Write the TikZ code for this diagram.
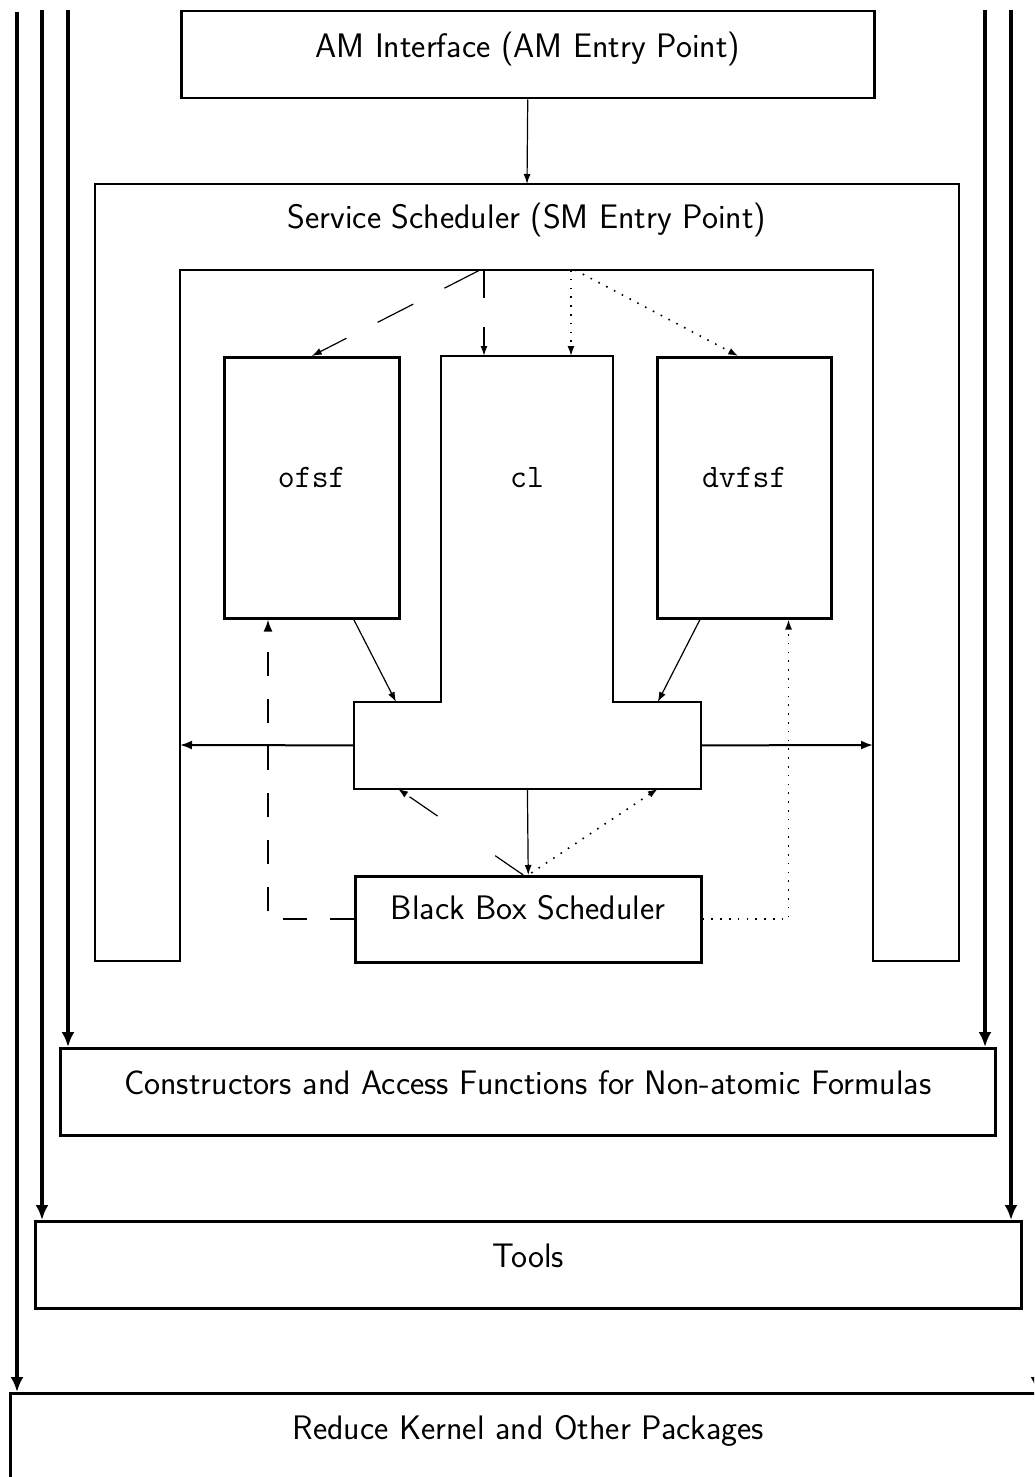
\documentclass[tikz,border=0pt]{standalone}
\usetikzlibrary{arrows.meta,calc}

\begin{document}
\begin{tikzpicture}[x=0.5pt,y=-0.5pt,
    font=\fontsize{17}{20}\selectfont\sffamily,
    frame/.style={line width=1.25pt},
    box/.style={draw,frame,inner sep=0pt,anchor=north west,
        minimum height=43.5pt,text height=23pt,text depth=20.5pt},
    modbox/.style={draw,frame,inner sep=0pt,anchor=north west,
        minimum height=130.5pt,text height=65.25pt,text depth=65.25pt,
        font=\fontsize{16.4}{19}\selectfont\ttfamily},
    pillar/.style={line width=1.8pt,-{Latex[length=7.5pt,width=6.5pt]}},
    thinarrow/.style={line width=0.6pt,-{Latex[length=5pt,width=3.5pt]}},
    midarrow/.style={line width=1pt,-{Latex[length=6pt,width=4.5pt]}},
    dots/.style={line width=0.8pt,dash pattern=on 0.8pt off 3.6pt},
]
    \clip (0,0) rectangle (1034,1477);

    % layers
    \node[box,minimum width=346.5pt] (am) at (180,10) {AM Interface (AM Entry Point)};
    \node[box,minimum width=467.5pt] (cons) at (59,1047) {Constructors and Access Functions for Non-atomic Formulas};
    \node[box,minimum width=493pt] (tools) at (34,1220) {Tools};
    \node[box,minimum width=518pt,minimum height=100pt,text depth=77pt] (reduce) at (9,1392) {Reduce Kernel and Other Packages};

    % service scheduler
    \coordinate (sstop) at (527,184);
    \coordinate (inl) at (180,745);
    \coordinate (inr) at (873,745);
    \coordinate (bar1) at (480,270);
    \coordinate (bar2) at (484,270);
    \coordinate (bar3) at (571,270);
    \coordinate (bar4) at (575,270);
    \draw[frame] (95,961) -- (95,184) -- (959,184) -- (959,961) -- (873,961)
        -- (873,270) -- (180,270) -- (180,961) -- cycle;
    \node[anchor=base] (ss) at (527,228) {Service Scheduler (SM Entry Point)};

    % domains
    \node[modbox,minimum width=87.5pt] (ofsf) at (223,356) {ofsf};
    \node[modbox,minimum width=87pt] (dvfsf) at (656,356) {dvfsf};
    \node[inner sep=0pt,anchor=north west,minimum width=173pt,minimum height=43pt] (clbar) at (354,702) {};
    \draw[frame] (clbar.north west) -- (441,702) -- (441,356) -- (613,356) -- (613,702)
        -- (clbar.north east) -- (clbar.south east) -- (clbar.south west) -- cycle;
    \node[anchor=base,font=\fontsize{16.4}{19}\selectfont\ttfamily] (cl) at (527,487) {cl};

    \node[box,minimum width=173pt,minimum height=43pt,text height=21.5pt,text depth=21.5pt] (bbs) at (354,875) {Black Box Scheduler};

    % pillars
    \coordinate (p1) at (17,12);
    \coordinate (p2) at (42,10);
    \coordinate (p3) at (68,10);
    \coordinate (p4) at (985,10);
    \coordinate (p5) at (1011,10);
    \coordinate (p6) at (1037,10);
    \draw[pillar] (p1) -- (p1 |- reduce.north);
    \draw[pillar] (p2) -- (p2 |- tools.north);
    \draw[pillar] (p3) -- (p3 |- cons.north);
    \draw[pillar] (p4) -- (p4 |- cons.north);
    \draw[pillar] (p5) -- (p5 |- tools.north);
    \draw[pillar] (p6) -- (p6 |- reduce.north);

    % calls
    \draw[thinarrow] (am.south) -- (sstop);
    \draw[thinarrow,dash pattern=on 20pt off 17.5pt] (bar1) -- (ofsf.north);
    \draw[thinarrow,line width=0.8pt,dash pattern=on 14pt off 14.5pt] (bar2) -- (bar2 |- ofsf.north);
    \draw[thinarrow,dots] (bar3) -- (bar3 |- dvfsf.north);
    \draw[thinarrow,dots] (bar4) -- ($(dvfsf.north)+(-6,0)$);
    \draw[thinarrow] ($(ofsf.south)+(42,0)$) -- ($(clbar.north west)+(42,0)$);
    \draw[thinarrow] ($(dvfsf.south west)+(44,0)$) -- ($(clbar.north east)+(-43,0)$);
    \draw[midarrow] (clbar.west) -- (inl);
    \draw[midarrow] (clbar.east) -- (inr);
    \draw[thinarrow] (clbar.south) -- (bbs.north);
    \draw[thinarrow,dash pattern=on 17pt off 35pt] ($(bbs.north)+(-5,0)$) -- ($(clbar.south west)+(44,0)$);
    \draw[thinarrow,dots] ($(bbs.north)+(3,-2)$) -- ($(clbar.south east)+(-43,0)$);
    \draw[midarrow,dash pattern=on 12pt off 11.5pt] (bbs.west) -| ($(ofsf.south west)+(45,0)$);
    \draw[thinarrow,dots] (bbs.east) -| ($(dvfsf.south east)+(-44,0)$);
\end{tikzpicture}
\end{document}
